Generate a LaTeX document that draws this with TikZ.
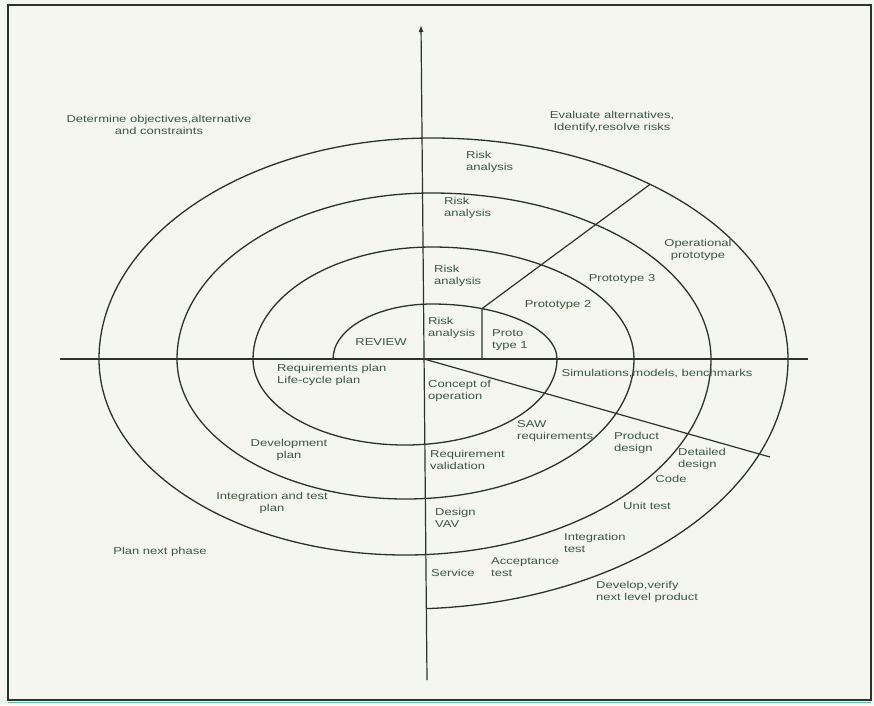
\documentclass[tikz,border=0pt]{standalone}
\usepackage{fontspec}
\setmainfont{Liberation Sans}[FakeStretch=1.3]
\usetikzlibrary{arrows.meta,calc}

\definecolor{ink}{HTML}{2A332C}
\definecolor{txt}{HTML}{3A5842}
\definecolor{paper}{HTML}{F5F6EF}
\definecolor{edge}{HTML}{5DB8AE}

\begin{document}
\begin{tikzpicture}[x=1pt,y=-1pt,
  spiral/.style={draw=ink, line width=1.3pt},
  axisline/.style={draw=ink, line width=1.2pt},
  sector/.style={draw=ink, line width=1.2pt},
  lbl/.style={font=\fontsize{10}{11.5}\selectfont, text=txt, inner sep=0pt, align=center},
  lbll/.style={lbl, anchor=west, align=left}]

% page and frame
\fill[paper] (0,0) rectangle (874,705);
\useasboundingbox (0,0) rectangle (874,705);
\draw[ink, line width=1.8pt] (8,5) rectangle (871,700);
\draw[edge, line width=1.6pt] (8,702.5) -- (871,702.5);

% axes
\coordinate (vtop) at (421,25);
\coordinate (vbot) at (427,680);
\coordinate (hleft) at (60,359);
\coordinate (hright) at (808,359);
\coordinate (o) at (424,359);
\draw[axisline] (hleft) -- (hright);
\draw[axisline, -{Latex[length=7pt,width=5pt]}] (vbot) -- (vtop);

% the spiral: upper halves peak near the axis, lower halves are half ellipses
\coordinate (s0) at (333,359);
\draw[spiral] (s0)
  arc[start angle=180, end angle=270, x radius=99,  y radius=55]
  arc[start angle=270, end angle=360, x radius=125, y radius=55]
  arc[start angle=0,   end angle=180, x radius=152, y radius=86]
  arc[start angle=180, end angle=270, x radius=179, y radius=112]
  arc[start angle=270, end angle=360, x radius=202, y radius=112]
  arc[start angle=0,   end angle=180, x radius=228.5, y radius=140]
  arc[start angle=180, end angle=270, x radius=255, y radius=166]
  arc[start angle=270, end angle=360, x radius=279, y radius=166]
  arc[start angle=0,   end angle=180, x radius=306, y radius=196]
  arc[start angle=180, end angle=270, x radius=333, y radius=221]
  arc[start angle=270, end angle=360, x radius=356, y radius=221]
  arc[start angle=0,   end angle=86.9, x radius=382.5, y radius=250];

% sector boundaries
\coordinate (k1) at (482,308.6);
\coordinate (k1foot) at (482,359);
\coordinate (k4) at (650,184.4);
\coordinate (lowend) at (770,457);
\draw[sector] (k1foot) -- (k1) -- (k4);
\draw[sector] (o) -- (lowend);

% quadrant headings
\node[lbl] (obj) at (159,125) {Determine objectives,alternative\\and constraints};
\node[lbl] (eval) at (612,122) {Evaluate alternatives,\\Identify,resolve risks};
\node[lbl] (plan) at (160,552) {Plan next phase};
\node[lbll] (devver) at (596,592) {Develop,verify\\next level product};

% risk analysis and prototypes
\node[lbll] (ra4) at (466,162) {Risk\\analysis};
\node[lbll] (ra3) at (444,208) {Risk\\analysis};
\node[lbll] (ra2) at (434,276) {Risk\\analysis};
\node[lbll] (ra1) at (428,328) {Risk\\analysis};
\node[lbll] (p1) at (492,340) {Proto\\type 1};
\node[lbl] (p2) at (558,305) {Prototype 2};
\node[lbl] (p3) at (622,279) {Prototype 3};
\node[lbl] (op) at (698,250) {Operational\\prototype};
\node[lbl] (review) at (381,342) {REVIEW};

% planning
\node[lbll] (reqplan) at (277,375) {Requirements plan\\Life-cycle plan};
\node[lbl] (devplan) at (289,450) {Development\\plan};
\node[lbl] (itplan) at (272,503) {Integration and test\\plan};

% engineering
\node[lbl] (sim) at (657,374) {Simulations,models, benchmarks};
\node[lbll] (concept) at (428,391) {Concept of\\operation};
\node[lbll] (saw) at (517,431) {SAW\\requirements};
\node[lbll] (prod) at (614,443) {Product\\design};
\node[lbll] (det) at (678,459) {Detailed\\design};
\node[lbl] (code) at (671,479) {Code};
\node[lbl] (unit) at (647,506) {Unit test};
\node[lbll] (reqval) at (430,460) {Requirement\\validation};
\node[lbll] (dvv) at (435,518) {Design\\VAV};
\node[lbll] (integ) at (564,543) {Integration\\test};
\node[lbll] (accept) at (491,567) {Acceptance\\test};
\node[lbll] (service) at (431,573) {Service};
\end{tikzpicture}
\end{document}
